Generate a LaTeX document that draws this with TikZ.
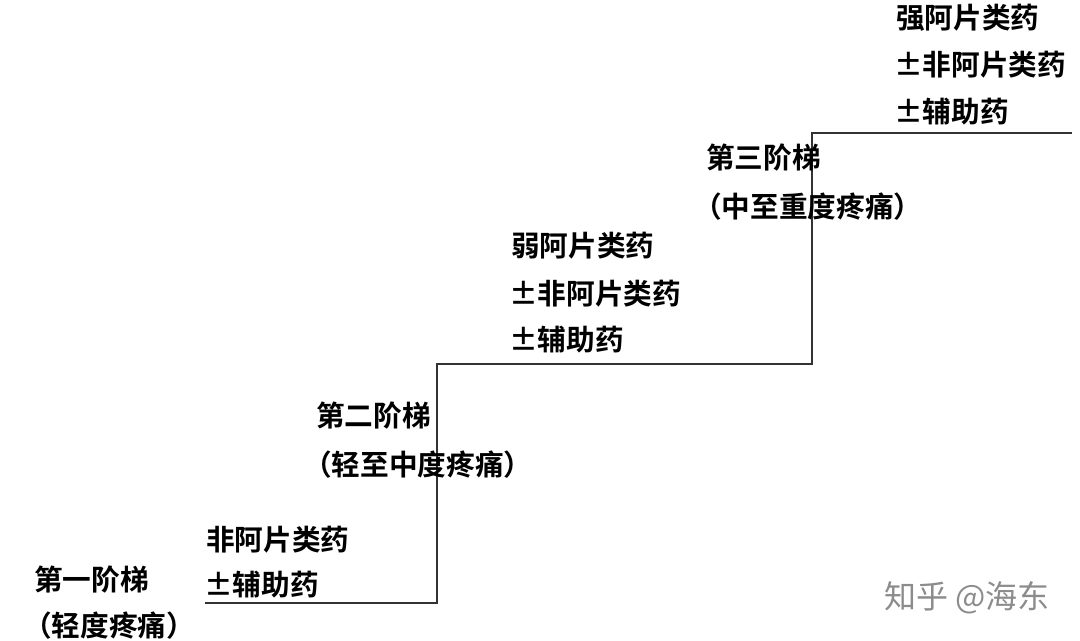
\documentclass[tikz,border=0pt]{standalone}
\usepackage{fontspec}
\setmainfont{Noto Sans CJK SC}
\newfontfamily\cjk[BoldFont={Noto Sans CJK SC Bold}]{Noto Sans CJK SC}
\usepackage{tikz}

\tikzset{
  lbl/.style={anchor=west,inner sep=0.75pt,font=\cjk\bfseries\fontsize{21.5}{24}\selectfont},
  stair/.style={line width=1.2pt,color=black!80}
}

\begin{document}
\begin{tikzpicture}[x=0.75pt,y=0.75pt,yscale=-1,xscale=1]
\useasboundingbox (0,0) rectangle (1080,640);

%Stair line
\coordinate (s0) at (205,603);
\coordinate (s1) at (437,603);
\coordinate (s2) at (437,364);
\coordinate (s3) at (812,364);
\coordinate (s4) at (812,133);
\coordinate (s5) at (1072,133);
\draw [stair] (s0) -- (s1) -- (s2) -- (s3) -- (s4) -- (s5) ;

% Text Node
\node [lbl] (step1) at (33,580) {第一阶梯};
\node [lbl] (pain1) at (22,626) {（轻度疼痛）};
\node [lbl] (drug1a) at (205,540) {非阿片类药};
\node [lbl] (drug1b) at (203,585) {±辅助药};
% Text Node
\node [lbl] (step2) at (315,416) {第二阶梯};
\node [lbl] (pain2) at (302,465) {（轻至中度疼痛）};
\node [lbl] (drug2a) at (510,246) {弱阿片类药};
\node [lbl] (drug2b) at (508,294) {±非阿片类药};
\node [lbl] (drug2c) at (508,340) {±辅助药};
% Text Node
\node [lbl] (step3) at (705,158) {第三阶梯};
\node [lbl] (pain3) at (692,207) {（中至重度疼痛）};
\node [lbl] (drug3a) at (895,18) {强阿片类药};
\node [lbl] (drug3b) at (893,65) {±非阿片类药};
\node [lbl] (drug3c) at (893,112) {±辅助药};
% Watermark
\node [anchor=west,inner sep=0.75pt,color=black!45,font=\cjk\fontsize{24}{26}\selectfont] (mark) at (883,598) {知乎 @海东};

\end{tikzpicture}
\end{document}
